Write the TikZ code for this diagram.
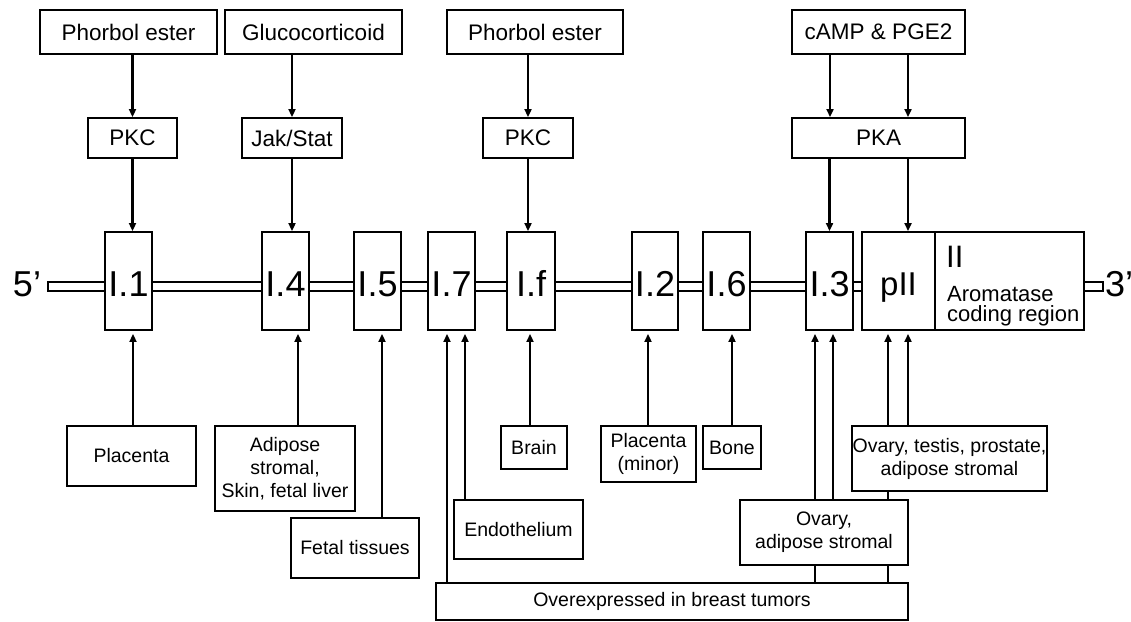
\documentclass[tikz,border=0pt]{standalone}
\usepackage{fontspec}
\setmainfont{Liberation Sans}
\usetikzlibrary{arrows.meta,calc}
\pgfdeclarelayer{bg}
\pgfsetlayers{bg,main}
\begin{document}
\begin{tikzpicture}[x=1pt,y=-1pt,
  bx/.style={draw,line width=1.9pt,fill=white,inner sep=0pt,align=center},
  topbox/.style={bx,font=\fontsize{22.5}{26}\selectfont,minimum height=44pt},
  prom/.style={bx,font=\fontsize{36}{38}\selectfont,minimum width=47pt,minimum height=98pt,text height=31pt,text depth=0pt},
  tis/.style={bx,font=\fontsize{19.5}{23}\selectfont},
  arr/.style={line width=2.2pt,-{Triangle[length=8pt,width=7pt]}},
  uparr/.style={arr,shorten >=3pt},
  ln/.style={line width=2.2pt}]
\useasboundingbox (0,0) rectangle (1131,621);

% top row
\node[topbox,minimum width=177pt] (pe1) at (128.5,32) {Phorbol ester};
\node[topbox,minimum width=177pt] (gc) at (313.5,32) {Glucocorticoid};
\node[topbox,minimum width=176pt] (pe2) at (535,32) {Phorbol ester};
\node[topbox,minimum width=173pt] (camp) at (878.5,32) {cAMP \& PGE2};

% kinases
\node[topbox,minimum width=89pt,minimum height=40pt] (pkc1) at (132.5,138) {PKC};
\node[topbox,minimum width=100pt,minimum height=40pt] (jak) at (292,138) {Jak/Stat};
\node[topbox,minimum width=90pt,minimum height=40pt] (pkc2) at (528,138) {PKC};
\node[topbox,minimum width=173pt,minimum height=40pt] (pka) at (878.5,138) {PKA};

% DNA ends
\node[font=\fontsize{36}{38}\selectfont,inner sep=0pt] (five) at (27,284) {5’};
\node[font=\fontsize{36}{38}\selectfont,inner sep=0pt,anchor=west] (three) at (1105,284) {3’};

% promoters
\node[prom] (p11) at (128.5,281) {I.1};
\node[prom] (p14) at (285.5,281) {I.4};
\node[prom] (p15) at (377.5,281) {I.5};
\node[prom] (p17) at (451.5,281) {I.7};
\node[prom,minimum width=48pt] (p1f) at (531,281) {I.f};
\node[prom,minimum width=46pt] (p12) at (655,281) {I.2};
\node[prom] (p16) at (726.5,281) {I.6};
\node[prom] (p13) at (829.5,281) {I.3};
\node[prom,minimum width=73pt,font=\fontsize{33}{36}\selectfont,text height=28.5pt] (pII) at (898.5,281) {pII};
\node[bx,minimum width=149pt,minimum height=98pt] (ii) at (1009.5,281) {};
\node[anchor=base west,font=\fontsize{31}{31}\selectfont,inner sep=0pt] (iilab) at (946,267) {II};
\node[anchor=north west,align=left,font=\fontsize{22}{20}\selectfont,inner sep=0pt] (aro) at (947,286) {Aromatase\\coding region};

% tissues
\node[tis,minimum width=129pt,minimum height=60pt] (plac) at (131.5,456) {Placenta};
\node[tis,minimum width=140pt,minimum height=85pt] (adip) at (285,468.5) {Adipose\\stromal,\\Skin, fetal liver};
\node[tis,minimum width=128pt,minimum height=60pt] (fetal) at (355,548) {Fetal tissues};
\node[tis,minimum width=66pt,minimum height=43pt] (brain) at (534,447.5) {Brain};
\node[tis,minimum width=95pt,minimum height=56pt] (placm) at (648.5,454) {Placenta\\(minor)};
\node[tis,minimum width=58pt,minimum height=43pt] (bone) at (732,447.5) {Bone};
\node[tis,minimum width=129pt,minimum height=59pt] (endo) at (518.5,529.5) {Endothelium};
\node[tis,minimum width=472pt,minimum height=37pt] (over) at (672,601.5) {Overexpressed in breast tumors};
\node[tis,minimum width=168pt,minimum height=65pt] (ovad) at (824,532.5) {Ovary,\\adipose stromal};
\node[tis,minimum width=195pt,minimum height=65pt] (ovts) at (949.5,458.5) {Ovary, testis, prostate,\\adipose stromal};

\begin{pgfonlayer}{bg}
\draw[line width=1.5pt,fill=white] (48,282) rectangle (1103,291);
% top arrows
\draw[arr] (pe1.south -| pkc1.north) -- (pkc1.north);
\draw[arr] (pkc1.south) -- (pkc1.south |- p11.north);
\draw[arr] (gc.south -| jak.north) -- (jak.north);
\draw[arr] (jak.south) -- (jak.south |- p14.north);
\draw[arr] (pe2.south -| pkc2.north) -- (pkc2.north);
\draw[arr] (pkc2.south) -- (pkc2.south |- p1f.north);
\coordinate (ka) at ([xshift=-48.5pt]camp.south);
\coordinate (kb) at ([xshift=29.5pt]camp.south);
\draw[arr] (ka) -- (ka |- pka.north);
\draw[arr] (kb) -- (kb |- pka.north);
\draw[arr] (pka.south -| p13.north) -- (p13.north);
\draw[arr] (kb |- pka.south) -- (kb |- pII.north);
% bottom arrows
\coordinate (u1) at ([xshift=4.5pt]p11.south);
\draw[uparr] (u1 |- plac.north) -- (u1);
\coordinate (u4) at ([xshift=12.5pt]p14.south);
\draw[uparr] (u4 |- adip.north) -- (u4);
\coordinate (u5) at ([xshift=4.5pt]p15.south);
\draw[uparr] (u5 |- fetal.north) -- (u5);
\coordinate (u7a) at ([xshift=-4.5pt]p17.south);
\draw[uparr] (u7a |- over.north) -- (u7a);
\coordinate (u7b) at ([xshift=13.5pt]p17.south);
\draw[uparr] (u7b |- endo.north) -- (u7b);
\coordinate (uf) at ([xshift=-1pt]p1f.south);
\draw[uparr] (uf |- brain.north) -- (uf);
\coordinate (u2) at ([xshift=-7pt]p12.south);
\draw[uparr] (u2 |- placm.north) -- (u2);
\coordinate (u6) at ([xshift=5.5pt]p16.south);
\draw[uparr] (u6 |- bone.north) -- (u6);
\coordinate (u3a) at ([xshift=-14.5pt]p13.south);
\draw[uparr] (u3a |- over.north) -- (u3a);
\coordinate (u3b) at ([xshift=3.5pt]p13.south);
\draw[uparr] (u3b |- ovad.north) -- (u3b);
\coordinate (upa) at ([xshift=-10.5pt]pII.south);
\draw[uparr] (upa |- over.north) -- (upa);
\coordinate (upb) at ([xshift=9.5pt]pII.south);
\draw[uparr] (upb |- ovts.north) -- (upb);
\end{pgfonlayer}
\end{tikzpicture}
\end{document}
